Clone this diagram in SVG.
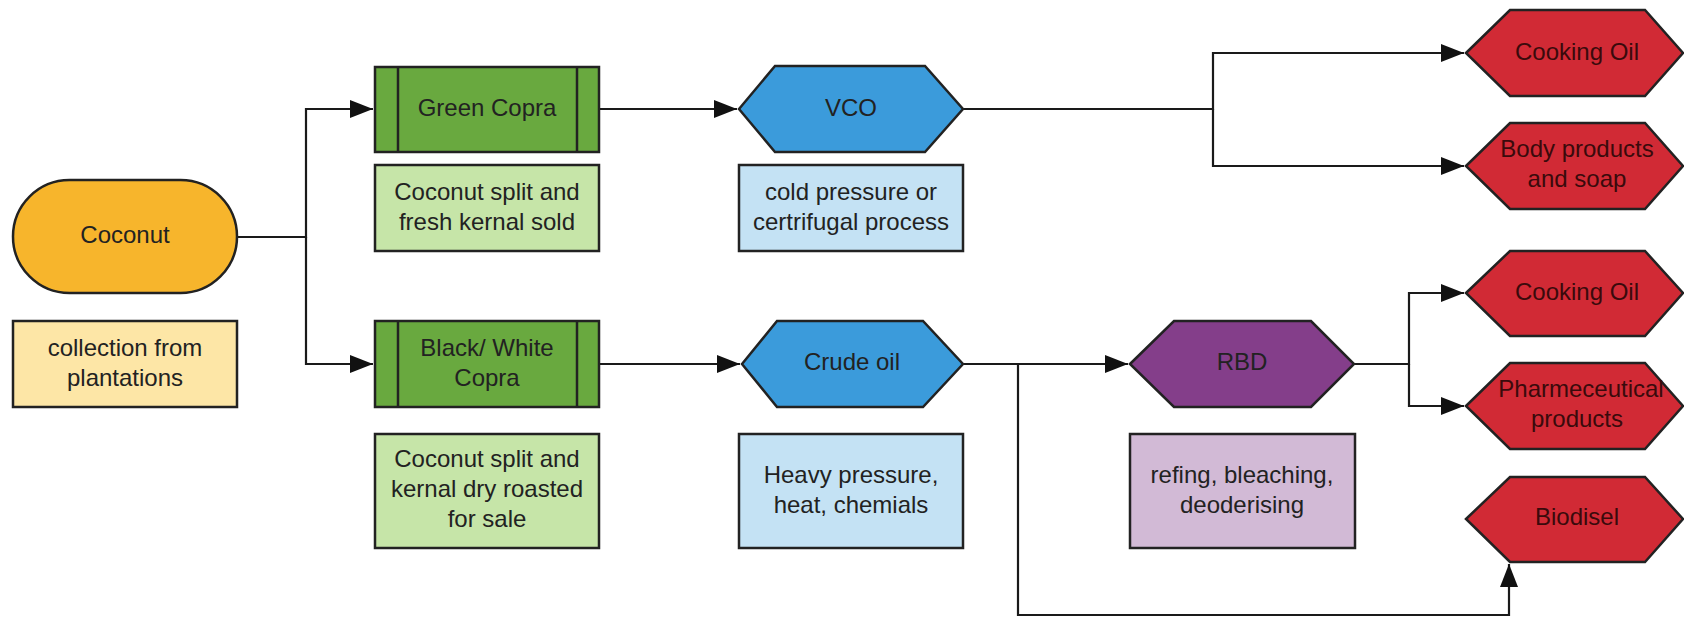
<svg xmlns="http://www.w3.org/2000/svg" width="1684" height="617" viewBox="0 0 1684 617">
<defs>
<style>
text{font-family:"Liberation Sans",Arial,sans-serif;font-size:24px;fill:#222;text-anchor:middle;dominant-baseline:central}
.shape{stroke:#222;stroke-width:2.5}
.conn{fill:none;stroke:#1a1a1a;stroke-width:2.2}
.red{fill:#D12A35}
.red text,text.rt{fill:#3a0a0c}
</style>
<marker id="arr" markerUnits="userSpaceOnUse" markerWidth="24" markerHeight="18" refX="23" refY="9" orient="auto">
<path d="M0,0 L23,9 L0,18 z" fill="#111"/>
</marker>
</defs>
<rect width="1684" height="617" fill="#fff"/>

<g id="connectors">
<path class="conn" d="M237,237 H306 V109 H373" marker-end="url(#arr)"/>
<path class="conn" d="M306,237 V364 H373" marker-end="url(#arr)"/>
<path class="conn" d="M599,109 H737" marker-end="url(#arr)"/>
<path class="conn" d="M599,364 H740" marker-end="url(#arr)"/>
<path class="conn" d="M963,109 H1213 V53 H1464" marker-end="url(#arr)"/>
<path class="conn" d="M1213,109 V166 H1464" marker-end="url(#arr)"/>
<path class="conn" d="M963,364 H1128" marker-end="url(#arr)"/>
<path class="conn" d="M1018,364 V615 H1509 V564" marker-end="url(#arr)"/>
<path class="conn" d="M1354,364 H1409 V293 H1464" marker-end="url(#arr)"/>
<path class="conn" d="M1409,364 V406 H1464" marker-end="url(#arr)"/>
</g>

<g id="coconut">
<rect class="shape" x="13" y="180" width="224" height="113" rx="56.5" fill="#F7B52C"/>
<text x="125" y="234">Coconut</text>
</g>
<g id="collection">
<rect class="shape" x="13" y="321" width="224" height="86" fill="#FDE6A6"/>
<text x="125" y="347">collection from</text>
<text x="125" y="377">plantations</text>
</g>

<g id="green-copra">
<rect class="shape" x="375" y="67" width="224" height="85" fill="#69A93F"/>
<line class="shape" x1="398" y1="67" x2="398" y2="152"/>
<line class="shape" x1="577" y1="67" x2="577" y2="152"/>
<text x="487" y="107">Green Copra</text>
</g>
<g id="green-desc">
<rect class="shape" x="375" y="165" width="224" height="86" fill="#C6E5A8"/>
<text x="487" y="191">Coconut split and</text>
<text x="487" y="221">fresh kernal sold</text>
</g>

<g id="black-copra">
<rect class="shape" x="375" y="321" width="224" height="86" fill="#69A93F"/>
<line class="shape" x1="398" y1="321" x2="398" y2="407"/>
<line class="shape" x1="577" y1="321" x2="577" y2="407"/>
<text x="487" y="347">Black/ White</text>
<text x="487" y="377">Copra</text>
</g>
<g id="black-desc">
<rect class="shape" x="375" y="434" width="224" height="114" fill="#C6E5A8"/>
<text x="487" y="458">Coconut split and</text>
<text x="487" y="488">kernal dry roasted</text>
<text x="487" y="518">for sale</text>
</g>

<g id="vco">
<polygon class="shape" points="739,109 775,66 925,66 963,109 925,152 775,152" fill="#3B9BDB"/>
<text x="851" y="107">VCO</text>
</g>
<g id="vco-desc">
<rect class="shape" x="739" y="165" width="224" height="86" fill="#C4E2F4"/>
<text x="851" y="191">cold pressure or</text>
<text x="851" y="221">certrifugal process</text>
</g>

<g id="crude-oil">
<polygon class="shape" points="742,364 777,321 923,321 963,364 923,407 777,407" fill="#3B9BDB"/>
<text x="852" y="361">Crude oil</text>
</g>
<g id="crude-desc">
<rect class="shape" x="739" y="434" width="224" height="114" fill="#C4E2F4"/>
<text x="851" y="474">Heavy pressure,</text>
<text x="851" y="504">heat, chemials</text>
</g>

<g id="rbd">
<polygon class="shape" points="1130,364 1174,321 1311,321 1354,364 1311,407 1174,407" fill="#843E8A"/>
<text x="1242" y="361">RBD</text>
</g>
<g id="rbd-desc">
<rect class="shape" x="1130" y="434" width="225" height="114" fill="#D2BAD6"/>
<text x="1242" y="474">refing, bleaching,</text>
<text x="1242" y="504">deoderising</text>
</g>

<g id="cooking-oil-1" class="red">
<polygon class="shape" points="1466,53 1510,10 1645,10 1683,53 1645,96 1510,96" fill="#D12A35"/>
<text class="rt" x="1577" y="51">Cooking Oil</text>
</g>
<g id="body-products" class="red">
<polygon class="shape" points="1466,166 1510,123 1645,123 1683,166 1645,209 1510,209" fill="#D12A35"/>
<text class="rt" x="1577" y="148">Body products</text>
<text class="rt" x="1577" y="178">and soap</text>
</g>
<g id="cooking-oil-2" class="red">
<polygon class="shape" points="1466,293 1510,251 1645,251 1683,293 1645,336 1510,336" fill="#D12A35"/>
<text class="rt" x="1577" y="291">Cooking Oil</text>
</g>
<g id="pharmaceutical" class="red">
<polygon class="shape" points="1466,406 1510,363 1645,363 1683,406 1645,449 1510,449" fill="#D12A35"/>
<text class="rt" x="1581" y="388">Pharmeceutical</text>
<text class="rt" x="1577" y="418">products</text>
</g>
<g id="biodisel" class="red">
<polygon class="shape" points="1466,519 1510,477 1645,477 1683,519 1645,562 1510,562" fill="#D12A35"/>
<text class="rt" x="1577" y="516">Biodisel</text>
</g>
</svg>
